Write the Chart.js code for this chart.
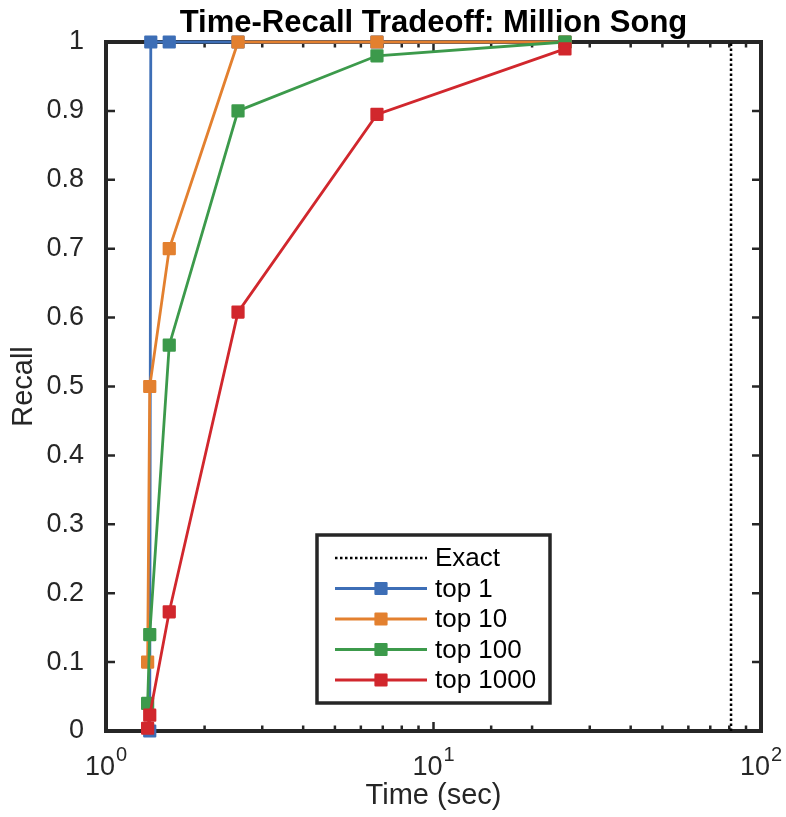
<!DOCTYPE html>
<html>
<head>
<meta charset="utf-8">
<script src="https://cdn.jsdelivr.net/npm/chart.js@4/dist/chart.umd.min.js"></script>
<style>
  html, body { margin: 0; padding: 0; background: #fff; }
  canvas { display: block; }
</style>
</head>
<body>
<canvas id="chart" width="786" height="817"></canvas>
<script>
// values (time in seconds, recall 0..1)
const exactTime = 81;
const top1Time = [1.36, 1.37, 1.56, 2.53, 6.72, 25.2];
const top1Recall = [0, 1, 1, 1, 1, 1];
const top10Time = [1.34, 1.36, 1.56, 2.53, 6.72, 25.2];
const top10Recall = [0.1, 0.5, 0.7, 1, 1, 1];
const top100Time = [1.34, 1.36, 1.56, 2.53, 6.72, 25.2];
const top100Recall = [0.04, 0.14, 0.56, 0.9, 0.98, 1];
const top1000Time = [1.34, 1.36, 1.56, 2.53, 6.72, 25.2];
const top1000Recall = [0.004, 0.023, 0.173, 0.608, 0.895, 0.99];
const xMajorTicks = [1, 10, 100];

const FONT = '"Liberation Sans", Arial, Helvetica, sans-serif';
const AXIS_COLOR = '#262626';

function toPoints(xs, ys) {
  return xs.map((x, i) => ({ x, y: ys[i] }));
}

function seriesDataset(label, color, xs, ys, order) {
  return {
    label,
    data: toPoints(xs, ys),
    borderColor: color,
    backgroundColor: color,
    borderWidth: 2.8,
    pointStyle: 'rect',
    pointRadius: 7.8,
    pointHoverRadius: 7.8,
    pointBorderWidth: 2.2,
    pointBorderColor: color,
    pointBackgroundColor: color,
    tension: 0,
    clip: false,
    order,
  };
}

const boxAndLabels = {
  id: 'boxAndLabels',
  beforeDatasetsDraw(chart) {
    const { ctx, chartArea: a, scales } = chart;
    ctx.save();
    ctx.strokeStyle = AXIS_COLOR;
    ctx.lineWidth = 2.5;
    // inward tick marks, y
    scales.y.ticks.forEach((t) => {
      const py = scales.y.getPixelForValue(t.value);
      ctx.beginPath();
      ctx.moveTo(a.left, py); ctx.lineTo(a.left + 9, py);
      ctx.moveTo(a.right, py); ctx.lineTo(a.right - 9, py);
      ctx.stroke();
    });
    // inward tick marks, x (log minors shorter)
    scales.x.ticks.forEach((t) => {
      const major = xMajorTicks.includes(t.value);
      const len = major ? 9 : 5.5;
      const px = scales.x.getPixelForValue(t.value);
      ctx.beginPath();
      ctx.moveTo(px, a.bottom); ctx.lineTo(px, a.bottom - len);
      ctx.moveTo(px, a.top); ctx.lineTo(px, a.top + len);
      ctx.stroke();
    });
    ctx.lineWidth = 4;
    ctx.strokeRect(a.left, a.top, a.right - a.left, a.bottom - a.top);
    ctx.restore();
    ctx.lineJoin = 'round';
  },
  afterDatasetsDraw(chart) {
    chart.ctx.lineJoin = 'miter';
  },
  afterDraw(chart) {
    const { ctx, chartArea: a, scales } = chart;
    ctx.save();
    ctx.fillStyle = AXIS_COLOR;

    // x tick labels 10^n
    xMajorTicks.forEach((v) => {
      const px = scales.x.getPixelForValue(v);
      const exp = String(Math.round(Math.log10(v)));
      ctx.font = '27px ' + FONT;
      const baseW = ctx.measureText('10').width;
      ctx.font = '20px ' + FONT;
      const expW = ctx.measureText(exp).width;
      const x0 = px - (baseW + expW + 1) / 2;
      ctx.textAlign = 'left';
      ctx.textBaseline = 'alphabetic';
      ctx.font = '27px ' + FONT;
      ctx.fillText('10', x0, 775);
      ctx.font = '20px ' + FONT;
      ctx.fillText(exp, x0 + baseW + 1, 761);
    });

    // title
    ctx.fillStyle = '#000';
    ctx.font = 'bold 31px ' + FONT;
    ctx.textAlign = 'center';
    ctx.textBaseline = 'alphabetic';
    ctx.fillText('Time-Recall Tradeoff: Million Song', (a.left + a.right) / 2, 32);

    // legend
    const lx = 317, ly = 535, lw = 233, lh = 168;
    ctx.fillStyle = '#fff';
    ctx.fillRect(lx, ly, lw, lh);
    ctx.strokeStyle = AXIS_COLOR;
    ctx.lineWidth = 3.5;
    ctx.strokeRect(lx, ly, lw, lh);
    const rows = [0, 1, 2, 3, 4];
    rows.forEach((i) => {
      const ds = chart.data.datasets[i];
      const ry = 558 + i * 30.5;
      ctx.save();
      ctx.strokeStyle = ds.borderColor;
      ctx.lineWidth = ds.borderWidth;
      ctx.setLineDash(ds.borderDash || []);
      ctx.beginPath();
      ctx.moveTo(335, ry); ctx.lineTo(427, ry);
      ctx.stroke();
      ctx.restore();
      if (ds.pointRadius > 0) {
        ctx.save();
        ctx.fillStyle = ds.borderColor;
        ctx.strokeStyle = ds.borderColor;
        ctx.lineWidth = 2.2;
        ctx.lineJoin = 'round';
        ctx.beginPath();
        ctx.rect(381 - 5.5, ry - 5.5, 11, 11);
        ctx.fill();
        ctx.stroke();
        ctx.restore();
      }
      ctx.fillStyle = '#000';
      ctx.font = '26px ' + FONT;
      ctx.textAlign = 'left';
      ctx.textBaseline = 'middle';
      ctx.fillText(ds.label, 435, ry + 1);
    });
    ctx.restore();
  },
};

new Chart(document.getElementById('chart'), {
  type: 'line',
  data: {
    datasets: [
      {
        label: 'Exact',
        data: toPoints([exactTime, exactTime], [0, 1]),
        borderColor: '#000',
        borderWidth: 2.5,
        borderDash: [2.5, 2.5],
        pointRadius: 0,
        clip: false,
        order: 4,
      },
      seriesDataset('top 1', '#3D6EB6', top1Time, top1Recall, 3),
      seriesDataset('top 10', '#E3802F', top10Time, top10Recall, 2),
      seriesDataset('top 100', '#3C9A4B', top100Time, top100Recall, 1),
      seriesDataset('top 1000', '#D1272D', top1000Time, top1000Recall, 0),
    ],
  },
  options: {
    responsive: false,
    animation: false,
    devicePixelRatio: 1,
    layout: { padding: { top: 42, right: 25, left: 0, bottom: 0 } },
    plugins: {
      legend: { display: false },
      title: { display: false },
      tooltip: { enabled: false },
    },
    scales: {
      x: {
        type: 'logarithmic',
        min: 1,
        max: 100,
        grid: { display: false },
        border: { display: false },
        ticks: { display: false },
        title: {
          display: true,
          text: 'Time (sec)',
          color: AXIS_COLOR,
          font: { family: FONT, size: 29 },
          padding: { top: 0, bottom: 4 },
        },
        afterFit(scale) { scale.height = 86; },
      },
      y: {
        min: 0,
        max: 1,
        grid: { display: false },
        border: { display: false },
        ticks: {
          stepSize: 0.1,
          color: AXIS_COLOR,
          padding: 14,
          font: { family: FONT, size: 27 },
          callback: (v) => String(Number(v.toFixed(1))),
        },
        title: {
          display: true,
          text: 'Recall',
          color: AXIS_COLOR,
          font: { family: FONT, size: 29 },
          padding: { top: 7, bottom: 0 },
        },
        afterFit(scale) { scale.width = 106; },
      },
    },
  },
  plugins: [boxAndLabels],
});
</script>
</body>
</html>
